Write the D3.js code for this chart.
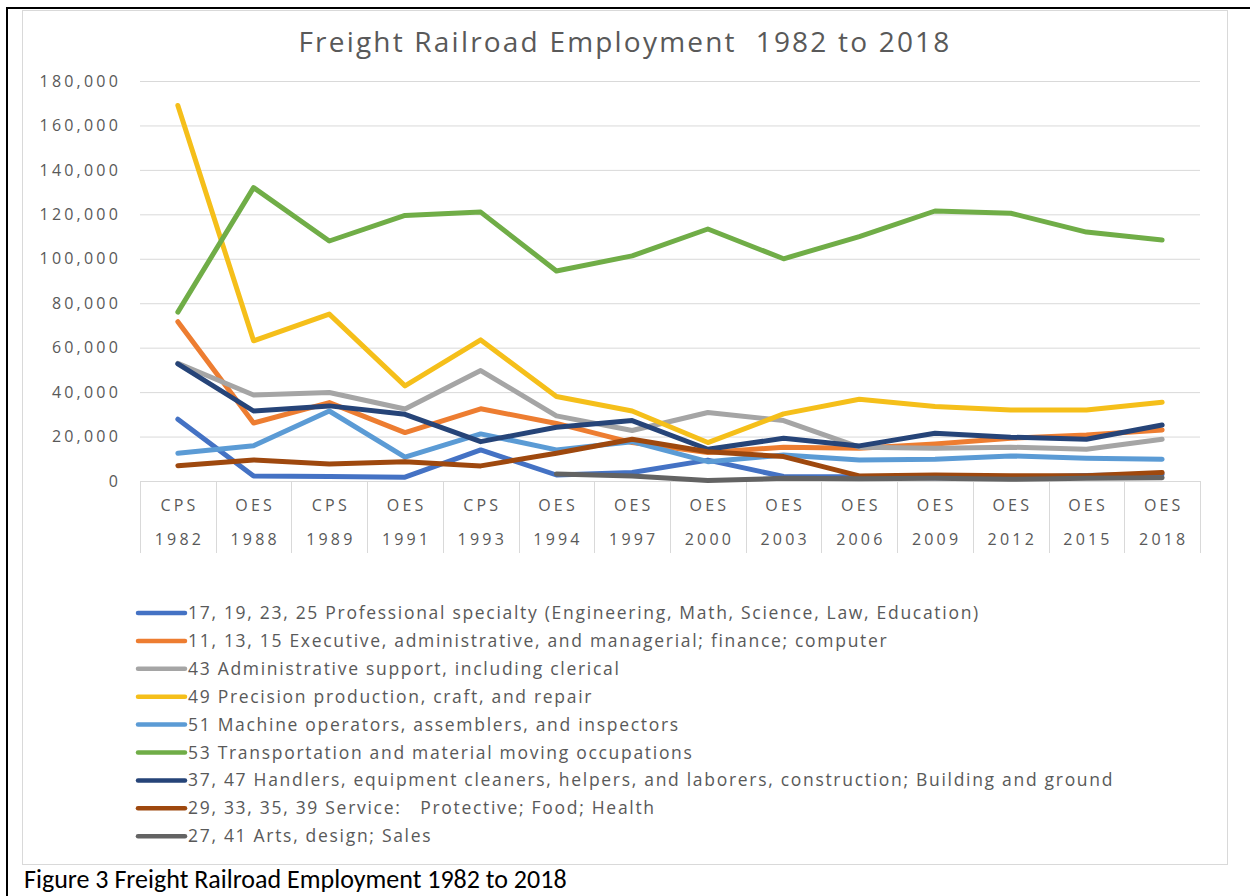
<!DOCTYPE html>
<html>
<head>
<meta charset="utf-8">
<script src="https://cdn.jsdelivr.net/npm/d3@7"></script>
<style>
  html, body { margin: 0; padding: 0; background: #fff; }
  svg { display: block; }
  svg text { white-space: pre; }
</style>
</head>
<body>
<svg id="chart" width="1250" height="896"></svg>
<script>
// Survey source and year for each observation
const sources = ["CPS", "OES", "CPS", "OES", "CPS", "OES", "OES", "OES", "OES", "OES", "OES", "OES", "OES", "OES"];
const years = ["1982", "1988", "1989", "1991", "1993", "1994", "1997", "2000", "2003", "2006", "2009", "2012", "2015", "2018"];

const yTicks = [0, 20000, 40000, 60000, 80000, 100000, 120000, 140000, 160000, 180000];

// Employment by occupation group
const professional = [27800, 2300, 2000, 1700, 14000, 2700, 3800, 9400, 2000, 1900, 1500, 1500, 2500, 3000];
const executive = [71700, 26100, 35300, 21800, 32500, 25900, 17300, 12800, 15200, 14700, 16700, 19200, 20700, 23000];
const adminSupport = [53000, 38700, 39800, 32400, 49700, 29300, 22700, 30800, 27200, 15200, 14700, 15200, 14300, 18800];
const precision = [169000, 63100, 75100, 42800, 63500, 38000, 31500, 17300, 30200, 36800, 33500, 32000, 32000, 35400];
const machineOps = [12500, 15900, 31500, 10700, 21200, 14000, 17700, 8700, 11700, 9500, 9800, 11300, 10200, 9800];
const transportation = [76000, 132000, 108000, 119500, 121000, 94500, 101300, 113400, 100000, 110000, 121500, 120500, 112000, 108400];
const handlers = [52700, 31500, 33800, 30000, 17700, 24200, 27200, 14300, 19200, 15800, 21500, 19700, 18800, 25200];
const service = [6900, 9500, 7700, 8700, 6800, 12500, 18800, 13200, 11000, 2300, 2700, 2400, 2400, 3800];
const artsSales = [null, null, null, null, null, 3200, 2300, 200, 1200, 1000, 1200, 800, 1200, 1500];

const seriesNames = [
  "17, 19, 23, 25 Professional specialty (Engineering, Math, Science, Law, Education)",
  "11, 13, 15 Executive, administrative, and managerial; finance; computer",
  "43 Administrative support, including clerical",
  "49 Precision production, craft, and repair",
  "51 Machine operators, assemblers, and inspectors",
  "53 Transportation and material moving occupations",
  "37, 47 Handlers, equipment cleaners, helpers, and laborers, construction; Building and ground",
  "29, 33, 35, 39 Service:   Protective; Food; Health",
  "27, 41 Arts, design; Sales"
];
const seriesColors = ["#4472C4", "#ED7D31", "#A5A5A5", "#F5BF1A", "#5B9BD5", "#70AD47", "#264478", "#9E480E", "#636363"];

const seriesValues = [professional, executive, adminSupport, precision, machineOps, transportation, handlers, service, artsSales];
const series = seriesNames.map((name, i) => ({ name, color: seriesColors[i], values: seriesValues[i] }));
const categories = years.map((y, i) => sources[i] + " " + y);

const svg = d3.select("#chart");
const textColor = "#595959";
const font = "'Open Sans', 'DejaVu Sans', sans-serif";

// Page frame: black cell border and the chart's light outline
svg.append("line").attr("x1", 7).attr("x2", 1250).attr("y1", 8).attr("y2", 8)
  .attr("stroke", "#000").attr("stroke-width", 2);
svg.append("line").attr("x1", 7).attr("x2", 7).attr("y1", 7).attr("y2", 896)
  .attr("stroke", "#000").attr("stroke-width", 2);
svg.append("rect").attr("x", 22.5).attr("y", 10.5).attr("width", 1205).attr("height", 854)
  .attr("fill", "#fff").attr("stroke", "#d9d9d9").attr("stroke-width", 1);

// Title
svg.append("text")
  .attr("x", 625).attr("y", 52)
  .attr("text-anchor", "middle")
  .attr("font-family", font).attr("font-size", 28)
  .attr("letter-spacing", 2.2)
  .attr("fill", textColor)
  .text("Freight Railroad Employment  1982 to 2018");

// Scales
const x = d3.scaleBand().domain(categories).range([140, 1200]).padding(0);
const y = d3.scaleLinear().domain([0, 180000]).range([481, 81]);
const cx = c => x(c) + x.bandwidth() / 2;

// Horizontal gridlines
const grid = svg.append("g").attr("transform", "translate(140,0)")
  .call(d3.axisLeft(y).tickValues(yTicks).tickSize(-1060).tickFormat(""));
grid.select(".domain").remove();
grid.selectAll(".tick line").attr("stroke", "#d9d9d9").attr("stroke-width", 1);

// Value axis labels
const yAxis = svg.append("g").attr("transform", "translate(121,0)")
  .call(d3.axisLeft(y).tickValues(yTicks).tickSize(0).tickPadding(0).tickFormat(d3.format(",")));
yAxis.select(".domain").remove();
yAxis.selectAll("text")
  .attr("font-family", font).attr("font-size", 16).attr("letter-spacing", 3.2)
  .attr("fill", textColor);

// Category axis with two label rows (source, year) separated by cell lines
const xAxis = svg.append("g").attr("transform", "translate(0,481)");
xAxis.append("line").attr("x1", 140).attr("x2", 1200).attr("y1", 0.5).attr("y2", 0.5)
  .attr("stroke", "#d9d9d9");
const edges = categories.map(c => x(c)).concat([x(categories[categories.length - 1]) + x.bandwidth()]);
xAxis.selectAll("line.sep").data(edges).join("line").attr("class", "sep")
  .attr("x1", d => Math.round(d) + 0.5).attr("x2", d => Math.round(d) + 0.5)
  .attr("y1", 0).attr("y2", 72)
  .attr("stroke", "#d9d9d9");
xAxis.selectAll("text.src").data(categories).join("text").attr("class", "src")
  .attr("x", d => cx(d) + 1.6).attr("y", 30)
  .attr("text-anchor", "middle")
  .attr("font-family", font).attr("font-size", 16).attr("letter-spacing", 3.2)
  .attr("fill", textColor)
  .text((d, i) => sources[i]);
xAxis.selectAll("text.yr").data(categories).join("text").attr("class", "yr")
  .attr("x", d => cx(d) + 1.6).attr("y", 64)
  .attr("text-anchor", "middle")
  .attr("font-family", font).attr("font-size", 16).attr("letter-spacing", 3.2)
  .attr("fill", textColor)
  .text((d, i) => years[i]);

// Series lines
const line = d3.line()
  .defined(d => d.v !== null)
  .x(d => cx(d.c))
  .y(d => y(d.v));

svg.append("g").selectAll("path").data(series).join("path")
  .attr("d", s => line(s.values.map((v, i) => ({ c: categories[i], v }))))
  .attr("fill", "none")
  .attr("stroke", s => s.color)
  .attr("stroke-width", 5)
  .attr("stroke-linejoin", "round")
  .attr("stroke-linecap", "round");

// Legend
const legend = svg.append("g").selectAll("g").data(series).join("g")
  .attr("transform", (d, i) => `translate(0,${613 + i * 27.9})`);
legend.append("line")
  .attr("x1", 138).attr("x2", 185).attr("y1", 0).attr("y2", 0)
  .attr("stroke", d => d.color).attr("stroke-width", 4.5).attr("stroke-linecap", "round");
legend.append("text")
  .attr("x", 188).attr("y", 6)
  .attr("font-family", font).attr("font-size", 17.5).attr("letter-spacing", 1.7)
  .attr("fill", textColor)
  .text(d => d.name);

// Figure caption
svg.append("text")
  .attr("x", 24).attr("y", 888)
  .attr("font-family", "Carlito, 'Liberation Sans Narrow', 'Open Sans', sans-serif")
  .attr("font-size", 26)
  .attr("fill", "#000")
  .text("Figure 3 Freight Railroad Employment 1982 to 2018");
</script>
</body>
</html>
